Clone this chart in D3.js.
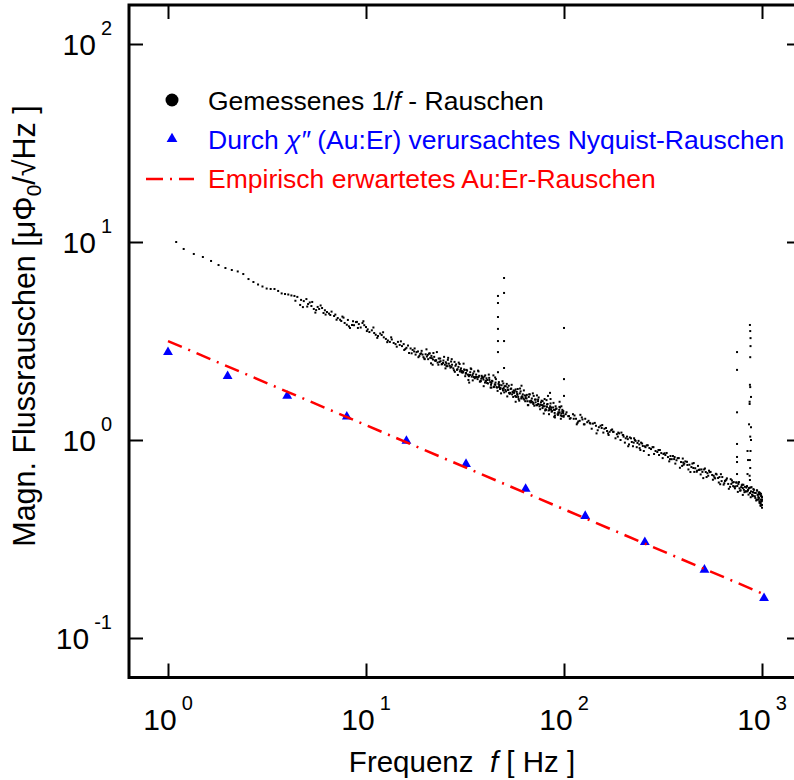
<!DOCTYPE html>
<html><head><meta charset="utf-8">
<script src="https://cdn.jsdelivr.net/npm/d3@7"></script>
<style>
body{margin:0;background:#fff}
svg{display:block}
text{font-family:"Liberation Sans",Arial,Helvetica,sans-serif;white-space:pre}
</style>
</head><body>
<svg id="c" width="794" height="780"></svg>
<script>
// ---------- data ----------
const xTicks = [1, 10, 100, 1000];
const yTicks = [0.1, 1, 10, 100];
const xTickExp = ["0", "1", "2", "3"];
const yTickExp = ["-1", "0", "1", "2"];

// measured 1/f noise (frequency Hz, noise µΦ0/√Hz)
const measured = [
[1.1,10.0],[1.2,9.22],[1.35,8.70],[1.5,8.40],[1.65,8.02],[1.8,7.65],[1.95,7.39],[2.1,7.22],[2.25,7.10],[2.4,6.89],
[2.55,6.50],[2.7,6.28],[2.85,6.10],[3.0,5.96],[3.15,5.82],[3.3,5.79],[3.45,5.79],[3.6,5.66],[3.75,5.50],[3.9,5.46],
[4.05,5.43],[4.2,5.37],[4.35,5.34],[4.5,5.28],[4.65,4.81],[4.8,4.69],[4.85,5.03],[5.0,5.15],[5.1,4.86],[5.2,4.95],
[5.3,4.75],[5.45,4.59],[5.6,4.53],[5.7,4.70],[5.8,4.59],[6.0,4.64],[6.1,4.38],[6.2,4.52],[6.35,4.43],[6.5,4.35],
[6.6,4.28],[6.9,4.23],[7.0,4.30],[7.2,4.13],[7.4,4.05],[7.5,3.99],[7.7,4.15],[7.8,3.90],[8.0,3.82],[8.1,4.04],
[8.3,3.68],[8.5,3.81],[8.7,3.80],[8.9,3.94],[9.0,3.95],[9.2,3.85],[9.4,3.70],[9.6,3.90],[9.8,3.80],[10,3.72],
[10.2,3.62],[10.4,3.51],[10.7,3.58],[11,3.47],[11.2,3.40],[11.5,3.35],[11.8,3.45],[12,3.39],[12.3,3.30],[12.6,3.24],
[12.9,3.18],[13.2,3.13],[13.5,3.22],[13.8,3.09],[14.1,3.05],[14.5,3.13],[14.8,3.02],[15.2,2.98],[15.5,3.05],[15.8,2.88],
[16,2.92],[16.5,2.75],[16.8,2.90],[17.2,2.85],[17.5,2.80],[17.8,2.70],[18,2.78],[18.8,2.72],[19.5,2.62],[20.5,2.69],
[4.4,5.05],[4.7,5.10],[5.05,4.72],[5.35,4.98],[5.55,4.40],[5.9,4.78],[6.25,4.30],[6.7,4.45],[7.1,4.05],[7.6,4.20],
[8.2,3.75],[8.6,3.98],[9.1,3.68],[9.7,3.98],[10.1,3.55],[10.9,3.70],[11.4,3.28],[12.2,3.50],[12.8,3.12],[13.4,3.30],
[14.3,2.96],[15.0,3.15],[15.6,2.85],[16.3,3.00],[17.0,2.74],[17.6,2.90],[18.4,2.62],[19.1,2.82],[19.8,2.56],
[21.5,2.59],[22.5,2.51],[23.5,2.48],[24.5,2.45],[25.5,2.36],[27,2.34],[28,2.48],[29,2.28],[30.5,2.23],[32,2.18],
[33.5,2.13],[35,2.08],[37,2.08],[39,2.06],[41,2.01],[43,1.94],[45,1.90],[47,1.85],[49,1.81],[52,1.79],
[55,1.75],[58,1.71],[61,1.65],[64,1.63],[67,1.57],[70,1.54],[74,1.52],[78,1.50],[82,1.47],[86,1.43],
[90,1.42],[95,1.38],[99,1.37],
[18.3,2.80],[18.6,2.66],[19.0,2.74],[19.3,2.70],[19.7,2.58],[20.0,2.71],[20.3,2.64],[20.8,2.73],[21.1,2.60],[21.4,2.66],
[21.8,2.55],[22.1,2.63],[22.6,2.53],[23.0,2.46],[23.3,2.58],[23.8,2.50],[24.2,2.42],[24.6,2.52],[25.0,2.40],[25.3,2.47],
[25.8,2.36],[26.2,2.43],[26.7,2.32],[27.2,2.40],[27.6,2.30],[28.3,2.37],[28.8,2.26],[29.3,2.34],[29.8,2.22],[30.2,2.30],
[30.8,2.19],[31.3,2.27],[31.9,2.16],[32.4,2.24],[33.0,2.12],[33.6,2.20],[34.2,2.09],[34.8,2.17],[35.4,2.05],[36.0,2.14],
[36.6,2.03],[37.3,2.11],[37.9,1.99],[38.6,2.08],[39.2,2.02],[39.9,1.95],[40.6,2.05],[41.3,1.93],[42.0,2.01],[42.8,1.90],
[43.5,1.98],[44.3,1.86],[45.1,1.95],[45.9,1.84],[46.7,1.92],[47.5,1.81],[48.4,1.89],[49.2,1.78],[50.1,1.87],[51.0,1.76],
[51.9,1.84],[52.8,1.73],[53.8,1.81],[54.7,1.70],[55.7,1.78],[56.7,1.67],[57.7,1.75],[58.7,1.65],[59.8,1.72],[60.8,1.62],
[61.9,1.70],[63.0,1.60],[64.1,1.67],[65.3,1.57],[66.4,1.65],[67.6,1.55],[68.8,1.62],[70.0,1.52],[71.3,1.60],[72.6,1.50],
[73.9,1.57],[75.2,1.48],[76.5,1.55],[77.9,1.45],[79.3,1.53],[80.7,1.43],[82.1,1.51],[83.6,1.41],[85.1,1.48],[86.6,1.39],
[88.1,1.46],[89.7,1.37],[91.3,1.44],[92.9,1.35],[94.6,1.42],[96.3,1.33],[98.0,1.39],[99.5,1.31],
[21.7,2.40],[26.0,2.60],[33.2,1.95],[44.0,2.12],[57.0,1.56],[61.0,1.88],[73.0,1.68],[79.0,1.36],[83.0,1.67],[90.0,1.30],
[95.0,1.56],[97,1.48],
[30.0,2.26],[31.0,2.21],[32.7,2.14],[34.5,2.13],[36.3,2.08],[38.2,2.04],[40.2,1.99],[42.4,1.96],[44.7,1.91],[47.1,1.88],
[49.6,1.83],[52.3,1.79],[55.2,1.74],[58.2,1.69],[61.4,1.66],[64.7,1.62],[68.2,1.58],[71.9,1.55],[75.8,1.51],[79.9,1.48],
[84.2,1.45],[88.8,1.42],[93.6,1.38],[97.0,1.36],
[20.2,2.87],[20.6,2.56],[21.0,2.74],[21.3,2.44],[21.9,2.75],[22.3,2.52],[22.8,2.78],[23.2,2.40],[23.7,2.58],[24.1,2.41],
[24.8,2.63],[25.2,2.30],[25.9,2.54],[26.5,2.37],[27.1,2.56],[27.8,2.25],[28.5,2.41],[29.1,2.13],[29.7,2.42],[30.4,2.20],
[31.1,2.43],[31.7,2.10],[32.2,2.26],[33.1,2.10],[33.8,2.30],[34.6,2.00],[35.2,2.22],[35.9,2.07],[36.8,2.24],[37.6,1.97],
[38.4,2.11],[39.3,1.87],[40.0,2.12],[40.9,1.94],[41.7,2.14],[42.6,1.84],[43.3,1.99],[44.2,1.85],[45.3,2.03],[46.2,1.77],
[46.9,1.96],[47.8,1.83],[48.9,1.98],[49.9,1.74],[50.8,1.87],[51.7,1.66],[52.6,1.88],[53.5,1.73],[54.4,1.90],[55.4,1.65],
[56.4,1.77],[57.3,1.65],[58.4,1.81],[59.4,1.58],[60.4,1.76],[61.6,1.65],[62.7,1.78],[63.7,1.57],[64.9,1.69],[66.0,1.50],
[67.2,1.70],[68.4,1.55],[69.6,1.72],[70.8,1.49],[72.0,1.60],[73.3,1.50],[74.5,1.64],[75.8,1.43],[77.1,1.58],[78.5,1.48],
[79.8,1.61],[81.2,1.42],[82.6,1.52],[84.0,1.35],[85.5,1.53],[87.0,1.40],[88.5,1.54],[90.0,1.33],[91.6,1.44],[93.2,1.34],
[94.8,1.47],[96.4,1.28],[98.1,1.42],[99.8,1.33],
[25.5,2.43],[26.9,2.49],[28.1,2.21],[29.4,2.46],[30.6,2.20],[31.5,2.26],[32.9,2.01],[34.0,2.28],[35.6,2.08],[37.0,2.22],
[38.0,1.98],[39.6,2.09],[40.4,1.99],[41.9,2.06],[43.0,1.84],[44.9,2.07],[45.6,1.85],[47.3,1.90],[48.1,1.72],[49.4,1.93],
[50.5,1.79],[51.4,1.92],[53.2,1.71],[54.1,1.82],[56.0,1.73],[57.0,1.80],[59.0,1.61],[60.0,1.82],[62.3,1.62],[63.3,1.68],
[65.7,1.50],[66.7,1.70],[69.2,1.56],[70.3,1.67],[72.9,1.50],[74.0,1.60],[76.9,1.50],[78.0,1.57],[80.3,1.41],[81.6,1.59],
[84.6,1.42],[86.1,1.46],[89.2,1.31],[90.7,1.48],[93.9,1.36],[95.5,1.46],[97.6,1.32],[99.2,1.40],
[105,1.32],[112,1.28],[120,1.25],[128,1.28],[135,1.22],[145,1.18],[155,1.15],[165,1.11],[178,1.10],[190,1.08],
[205,1.02],[220,0.977],[235,0.966],[250,0.933],[270,0.911],[290,0.880],[310,0.859],[335,0.820],[360,0.801],[390,0.774],
[420,0.748],[450,0.722],[480,0.706],[520,0.689],[560,0.666],[600,0.643],[650,0.621],[700,0.600],[750,0.586],[800,0.572],
[850,0.559],[900,0.546],[950,0.528],[1000,0.515],
[102,1.35],[108,1.29],[115,1.28],[118,1.24],[124,1.27],[131,1.23],[140,1.21],[150,1.16],[160,1.14],[170,1.10],
[175,1.13],[185,1.07],[195,1.09],[200,1.04],[210,1.01],[215,1.03],[225,0.97],[230,0.99],[240,0.95],[245,0.97],
[258,0.92],[262,0.94],[275,0.90],[280,0.92],[296,0.87],[300,0.89],[318,0.85],[325,0.84],[345,0.83],[350,0.80],
[370,0.79],[375,0.81],[400,0.77],[405,0.76],[430,0.75],[440,0.73],[460,0.72],[470,0.70],[495,0.71],[500,0.69],
[530,0.68],[540,0.70],[570,0.66],[580,0.64],[610,0.65],[625,0.62],[660,0.63],[675,0.60],[710,0.61],[725,0.58],
[760,0.60],[770,0.57],[790,0.59],[810,0.56],[820,0.58],[830,0.55],[860,0.57],[870,0.54],[880,0.55],[890,0.53],
[910,0.56],[920,0.52],[930,0.54],[940,0.50],[960,0.53],[965,0.51],[970,0.49],[975,0.54],[980,0.50],[985,0.48],
[990,0.52],[995,0.49],[1000,0.47],[1000,0.455],[985,0.465],
[103,1.38],[107,1.28],[113,1.33],[117,1.22],[123,1.30],[127,1.20],[133,1.25],[138,1.14],[143,1.22],[148,1.12],
[153,1.18],[158,1.09],[163,1.15],[168,1.06],[173,1.12],[182,1.02],[188,1.09],[193,1.00],[198,1.06],[203,0.97],
[208,1.04],[213,0.95],[218,1.02],[223,0.93],[228,1.00],[233,0.92],[238,0.99],[243,0.89],[248,0.96],[253,0.88],
[265,0.94],[285,0.85],[305,0.89],[315,0.81],[330,0.86],[340,0.78],[355,0.83],[365,0.76],[380,0.81],[395,0.74],
[410,0.78],[425,0.71],[445,0.76],[455,0.69],[475,0.74],[490,0.67],[510,0.71],[525,0.65],[550,0.69],[565,0.63],
[590,0.67],[605,0.61],[630,0.65],[640,0.595],[665,0.64],[690,0.58],[705,0.625],[730,0.57],[745,0.61],[775,0.555],
[795,0.595],[815,0.545],[840,0.585],[855,0.53],[875,0.575],[895,0.52],[905,0.565],[925,0.51],[945,0.555],[955,0.50],
[968,0.545],[978,0.485],[988,0.535],[993,0.47],[998,0.50],
[106,1.32],[111,1.35],[116,1.20],[121,1.34],[126,1.20],[136,1.21],[146,1.08],[156,1.19],[167,1.08],[177,1.10],
[187,1.04],[199,1.06],[211,0.93],[226,1.02],[241,0.91],[256,0.93],[268,0.84],[283,0.92],[302,0.84],[322,0.857],
[343,0.80],[362,0.82],[385,0.724],[398,0.806],
[402,0.75],[418,0.776],[435,0.689],[452,0.765],[468,0.691],[485,0.709],[505,0.642],[515,0.718],[535,0.660],[545,0.688],
[575,0.647],[585,0.675],[615,0.598],[620,0.672],[645,0.605],[655,0.625],[680,0.567],[695,0.634],[715,0.585],[720,0.613],
[735,0.583],[740,0.610],[755,0.547],[765,0.613],[780,0.557],[785,0.578],[800,0.528],[805,0.594],[825,0.550],[835,0.575],
[845,0.550],[862,0.573],[877,0.514],[885,0.578],[900,0.524],[915,0.541],[935,0.495],[942,0.557],[958,0.515],[962,0.541],
[972,0.481],[976,0.532],[983,0.468],[991,0.524],[996,0.492],[1000,0.50]
];

// spectral lines (about 50 Hz, 100 Hz and near 850 Hz)
const spikes = [
[46.4,5.34],[46.4,4.92],[46.4,4.18],[46.4,3.64],[46.4,3.16],[46.4,2.78],[46.4,2.20],
[49.8,6.58],[49.8,5.53],[49.8,3.16],[49.8,2.31],
[100,3.68],[100,2.03],[100,1.67],[85,1.73],[85.5,1.61],
[748,2.78],[748,2.26],[748,1.38],[748,0.955],[748,0.821],[748,0.774],[748,0.673],
[869,3.81],[872,3.55],[875,3.27],[875,2.98],[872,2.62],[869,1.90],[872,1.85],[880,1.65],[866,1.56],[866,1.52],
[860,1.20],[880,1.16],[872,1.04],[880,1.0],[845,0.880],[875,0.880],[850,0.792],[869,0.792],[872,0.722],[845,0.673],
[866,0.660],[869,0.628]
];

// Nyquist noise caused by chi'' (Au:Er)
const nyqFreq = [1, 2, 4, 8, 16, 32, 64, 128, 256, 512, 1024];
const nyqVal  = [2.78, 2.10, 1.67, 1.31, 0.99, 0.756, 0.566, 0.413, 0.305, 0.221, 0.159];

// empirically expected Au:Er noise (power law)
const empFreq = [1, 1000];
const empVal  = [3.16, 0.168];

const legendLabels = ["Gemessenes 1/f - Rauschen", "Durch \u03C7\u2033 (Au:Er) verursachtes Nyquist-Rauschen", "Empirisch erwartetes Au:Er-Rauschen"];

// ---------- drawing ----------
const svg = d3.select("#c");
const L = 129, R = 801, T = 5, B = 677.5;
const x = d3.scaleLog().domain([1, 1000]).range([168, 762]);
const y = d3.scaleLog().domain([0.1, 100]).range([638, 44]);

// axes (ticks only, inward)
const tk = 14;
svg.append("g").attr("transform", `translate(0,${B})`)
  .call(d3.axisBottom(x).tickValues(xTicks).tickSizeInner(-tk).tickSizeOuter(0).tickFormat(""));
svg.append("g").attr("transform", `translate(0,${T})`)
  .call(d3.axisTop(x).tickValues(xTicks).tickSizeInner(-tk).tickSizeOuter(0).tickFormat(""));
svg.append("g").attr("transform", `translate(${L},0)`)
  .call(d3.axisLeft(y).tickValues(yTicks).tickSizeInner(-tk).tickSizeOuter(0).tickFormat(""));
svg.append("g").attr("transform", `translate(${R},0)`)
  .call(d3.axisRight(y).tickValues(yTicks).tickSizeInner(-tk).tickSizeOuter(0).tickFormat(""));
svg.selectAll(".domain").remove();
svg.selectAll(".tick line").attr("stroke", "#000").attr("stroke-width", 2);

// frame
svg.append("rect").attr("x", L).attr("y", T).attr("width", R - L).attr("height", B - T)
  .attr("fill", "none").attr("stroke", "#000").attr("stroke-width", 3);

// tick labels
xTicks.forEach((v, i) => {
  const t = svg.append("text").attr("x", x(v)).attr("y", 730).attr("text-anchor", "middle")
    .attr("font-size", 30).attr("fill", "#000");
  t.append("tspan").text("10");
  t.append("tspan").attr("dx", 5).attr("dy", -20).attr("font-size", 20).text(xTickExp[i]);
});
yTicks.forEach((v, i) => {
  const t = svg.append("text").attr("x", 112).attr("y", y(v) + 11).attr("text-anchor", "end")
    .attr("font-size", 30).attr("fill", "#000");
  t.append("tspan").text("10");
  t.append("tspan").attr("dx", 5).attr("dy", -20).attr("font-size", 20).text(yTickExp[i]);
});

// axis titles
const xt = svg.append("text").attr("x", 462).attr("y", 772).attr("text-anchor", "middle")
  .attr("font-size", 29.5).attr("fill", "#000");
xt.append("tspan").text("Frequenz  ");
xt.append("tspan").attr("font-style", "italic").text("f");
xt.append("tspan").text(" [ Hz ]");

const yt = svg.append("text").attr("transform", "translate(35,326) rotate(-90)")
  .attr("text-anchor", "middle").attr("font-size", 30.5).attr("fill", "#000");
yt.append("tspan").text("Magn. Flussrauschen [\u03BC\u03A6");
yt.append("tspan").attr("font-size", 21).attr("dy", 6).text("0");
yt.append("tspan").attr("dy", -6).text("/\u221AHz ]");

// measured dots
svg.append("g").selectAll("rect").data(measured.concat(spikes)).join("rect")
  .attr("x", d => x(d[0]) - 1).attr("y", d => y(d[1]) - 1)
  .attr("width", 2).attr("height", 2).attr("fill", "#000");

// Nyquist triangles
svg.append("g").selectAll("path").data(nyqFreq).join("path")
  .attr("d", d3.symbol(d3.symbolTriangle, 42))
  .attr("transform", (d, i) => `translate(${x(d)},${y(nyqVal[i])})`)
  .attr("fill", "#0000ff");

// empirical line
const line = d3.line().x(d => x(d[0])).y(d => y(d[1]));
svg.append("path").datum(empFreq.map((f, i) => [f, empVal[i]]))
  .attr("d", line).attr("fill", "none").attr("stroke", "#ff0000")
  .attr("stroke-width", 2.5).attr("stroke-dasharray", "15,7,2,7");

// legend
const lg = svg.append("g");
lg.append("circle").attr("cx", 172).attr("cy", 100).attr("r", 6.5).attr("fill", "#000");
const l1 = lg.append("text").attr("x", 208).attr("y", 110).attr("font-size", 26.5).attr("fill", "#000");
l1.append("tspan").text("Gemessenes 1/");
l1.append("tspan").attr("font-style", "italic").text("f");
l1.append("tspan").text(" - Rauschen");

lg.append("path").attr("d", d3.symbol(d3.symbolTriangle, 50)).attr("transform", "translate(172,139)").attr("fill", "#0000ff");
const l2 = lg.append("text").attr("x", 208).attr("y", 149).attr("font-size", 26.5).attr("fill", "#0000ff");
l2.append("tspan").text("Durch ");
l2.append("tspan").attr("font-style", "italic").text("\u03C7\u2033");
l2.append("tspan").text(" (Au:Er) verursachtes Nyquist-Rauschen");

lg.append("line").attr("x1", 146).attr("x2", 194).attr("y1", 179).attr("y2", 179)
  .attr("stroke", "#ff0000").attr("stroke-width", 2.5).attr("stroke-dasharray", "17,7,2,7");
lg.append("text").attr("x", 208).attr("y", 188).attr("font-size", 26.5).attr("fill", "#ff0000")
  .text(legendLabels[2]);
</script>
</body></html>
